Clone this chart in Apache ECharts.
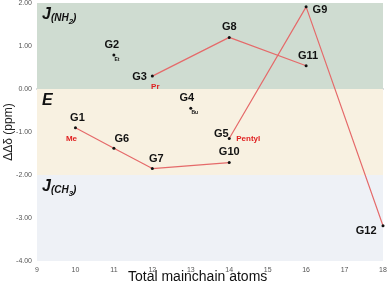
<!DOCTYPE html>
<html><head><meta charset="utf-8">
<script src="https://cdn.jsdelivr.net/npm/echarts@6/dist/echarts.min.js"></script>
<style>html,body{margin:0;padding:0;background:#fff}#c{width:387px;height:284px}</style>
</head><body><div id="c"></div>
<script>
// Data
const meX = [10, 11, 12, 14];
const meY = [-0.90, -1.38, -1.85, -1.71];
const meNames = ['G1', 'G6', 'G7', 'G10'];
const prX = [12, 14, 16];
const prY = [0.30, 1.20, 0.54];
const prNames = ['G3', 'G8', 'G11'];
const pentX = [14, 16, 18];
const pentY = [-1.15, 1.91, -3.18];
const pentNames = ['G5', 'G9', 'G12'];
const singleX = [11, 13];
const singleY = [0.79, -0.45];
const singleNames = ['G2', 'G4'];
const singleSub = ['Et', 'Bu'];
const bands = [[0, 2, 'nh2'], [-2, 0, 'e'], [-4, -2, 'ch3']];
const xTicks = [9, 10, 11, 12, 13, 14, 15, 16, 17, 18];
const yTicks = [-4, -3, -2, -1, 0, 1, 2];

const FONT = 'Liberation Sans, Arial, sans-serif';
const labelPos = {
  G1: {position: 'top', offset: [2, 0]},
  G6: {position: 'top', offset: [8, 1]},
  G7: {position: 'top', offset: [4, 0]},
  G10: {position: 'top', offset: [0, -1]},
  G5: {position: 'left', offset: [4, -4]},
  G4: {position: 'top', offset: [-4, 0]},
  G2: {position: 'top', offset: [-2, 0]},
  G3: {position: 'left', offset: [-1, 1]},
  G8: {position: 'top', offset: [0, 0]},
  G11: {position: 'top', offset: [2, 0]},
  G9: {position: 'right', offset: [2, 3]},
  G12: {position: 'left', offset: [-2, 5]}
};
function mk(xs, ys, names) {
  return xs.map((x, i) => {
    const lp = labelPos[names[i]];
    return {value: [x, ys[i]], name: names[i], label: {show: true, formatter: names[i], position: lp.position, offset: lp.offset}};
  });
}
const ptLabel = {color: '#111', fontWeight: 'bold', fontSize: 11, fontFamily: FONT, distance: 3};
const lineSeries = (xs, ys, names, noLine) => ({
  type: 'line', data: mk(xs, ys, names), symbol: 'circle', symbolSize: 3, showSymbol: true,
  itemStyle: {color: '#111'}, lineStyle: {color: '#e56a6a', width: 1.2, opacity: noLine ? 0 : 1}, label: ptLabel, z: 5
});

const bandColors = {nh2: '#cfdcd1', e: '#f8f1e1', ch3: '#eef1f6'};
const bandLabels = {
  nh2: '{j|J}{p|(NH}{s|2}{p|)}',
  e: '{j|E}',
  ch3: '{j|J}{p|(CH}{s|3}{p|)}'
};
const rich = {
  j: {fontSize: 16, fontWeight: 'bold', fontStyle: 'italic', fontFamily: FONT, color: '#111', verticalAlign: 'top', lineHeight: 18},
  p: {fontSize: 10, fontWeight: 'bold', fontStyle: 'italic', fontFamily: FONT, color: '#111', verticalAlign: 'top', padding: [6, 0, 0, 0], lineHeight: 18},
  s: {fontSize: 8, fontWeight: 'bold', fontStyle: 'italic', fontFamily: FONT, color: '#111', verticalAlign: 'top', padding: [11, 0, 0, 0], lineHeight: 18}
};

const subItems = [
  {value: [meX[0], meY[0]], name: 'Me', color: '#e02020', fs: 8, off: [-4, 11]},
  {value: [prX[0], prY[0]], name: 'Pr', color: '#e02020', fs: 8, off: [3, 11]},
  {value: [pentX[0], pentY[0]], name: 'Pentyl', color: '#e02020', fs: 8, off: [19, 0]},
  {value: [singleX[0], singleY[0]], name: singleSub[0], color: '#111', fs: 5, off: [3, 5]},
  {value: [singleX[1], singleY[1]], name: singleSub[1], color: '#111', fs: 5, off: [4, 4]}
].map(d => ({value: d.value, label: {show: true, formatter: d.name, color: d.color, fontSize: d.fs, fontWeight: 'bold', fontFamily: FONT, position: 'inside', offset: d.off}}));

const bandLabelItems = bands.map(b => ({
  value: [9, b[1]],
  label: {show: true, formatter: bandLabels[b[2]], rich: rich, position: [5, 4], align: 'left', verticalAlign: 'top'}
}));

const chart = echarts.init(document.getElementById('c'), null, {renderer: 'canvas'});
chart.setOption({
  animation: false,
  grid: {left: 37, right: 4, top: 3, bottom: 23, containLabel: false, outerBoundsMode: 'none'},
  xAxis: {
    type: 'value', min: 9, max: 18, interval: 1,
    axisLine: {show: true, lineStyle: {color: '#d0d4d8', width: 2}}, axisTick: {show: false},
    axisLabel: {color: '#555', fontSize: 7, fontFamily: FONT, margin: 6, formatter: v => xTicks.includes(v) ? String(v) : ''},
    splitLine: {show: false}
  },
  yAxis: {
    type: 'value', min: -4, max: 2, interval: 1,
    axisLine: {show: false}, axisTick: {show: false},
    axisLabel: {color: '#555', fontSize: 7, fontFamily: FONT, margin: 5, formatter: v => yTicks.includes(v) ? v.toFixed(2) : ''},
    splitLine: {show: true, lineStyle: {color: 'rgba(255,255,255,0.5)', width: 1}}
  },
  graphic: [{
    type: 'text', left: 128, top: 270,
    style: {text: 'Total mainchain atoms', fontSize: 14, fontFamily: FONT, fill: '#111'}
  }, {
    type: 'text', x: 9, y: 132, rotation: Math.PI / 2,
    style: {text: 'ΔΔδ (ppm)', fontSize: 12, fontFamily: FONT, fill: '#222', align: 'center', verticalAlign: 'middle'}
  }],
  series: [
    {
      type: 'scatter', data: [], silent: true, z: 1,
      markArea: {
        silent: true,
        data: bands.map(b => [
          {yAxis: b[1], itemStyle: {color: bandColors[b[2]], opacity: 1}, label: {show: false}},
          {yAxis: b[0]}
        ])
      }
    },
    lineSeries(meX, meY, meNames),
    lineSeries(prX, prY, prNames),
    lineSeries(pentX, pentY, pentNames),
    lineSeries(singleX, singleY, singleNames, true),
    {type: 'scatter', data: subItems, symbolSize: 0, z: 6, silent: true, itemStyle: {opacity: 1}},
    {type: 'scatter', data: bandLabelItems, symbolSize: 0, z: 6, silent: true, itemStyle: {opacity: 1}}
  ]
});
</script></body></html>
